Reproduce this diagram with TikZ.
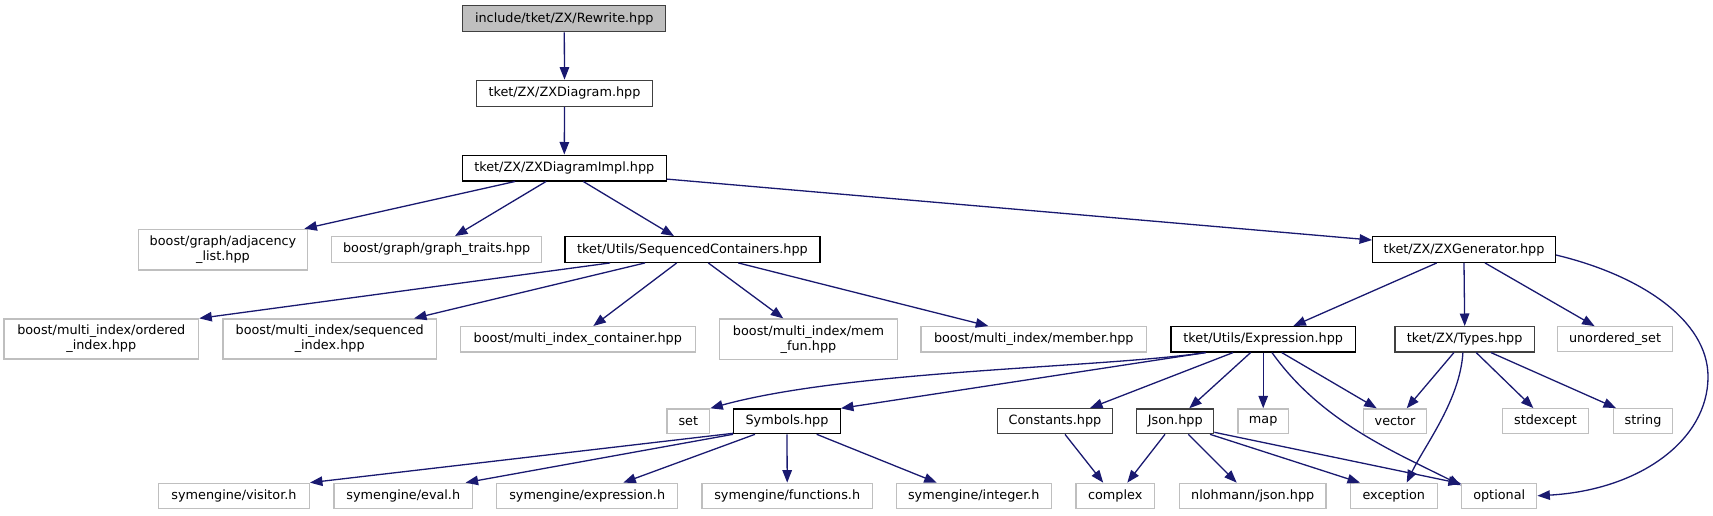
\documentclass[tikz,border=0pt]{standalone}
\usepackage{fontspec}
\setmainfont{DejaVu Sans}
\usetikzlibrary{arrows.meta,calc}
\definecolor{edgec}{HTML}{191970}
\definecolor{extc}{HTML}{BFBFBF}
\definecolor{dk}{HTML}{404040}
\begin{document}
\begin{tikzpicture}[x=1pt,y=-1pt,
 base/.style={draw, line width=1.3pt, inner sep=0pt, font=\fontsize{12.8}{15}\selectfont, align=center, fill=white},
 ext/.style={base, draw=extc},
 int/.style={base, draw=black},
 intd/.style={base, draw=dk},
 sz/.style 2 args={minimum width=#1, minimum height=#2},
 dep/.style={draw=edgec, line width=1.3pt, -{Triangle[length=12.5pt,width=9.5pt]}},
]
\useasboundingbox (0,0) rectangle (1713,515);
% row 0-2
\node[intd, fill=extc, sz={203}{26}] (rw) at (564.3,18.7) {include/tket/ZX/Rewrite.hpp};
\node[intd, sz={175.6}{26}] (zxd) at (564.5,93.3) {tket/ZX/ZXDiagram.hpp};
\node[int, sz={204}{25.7}] (impl) at (564.3,168) {tket/ZX/ZXDiagramImpl.hpp};
% row 3
\node[ext, sz={169.4}{40.7}] (adj) at (223,249.7) {boost/graph/adjacency\\\_list.hpp};
\node[ext, sz={210}{25.6}] (gt) at (436.7,249.5) {boost/graph/graph\_traits.hpp};
\node[int, sz={255}{25.6}] (seqc) at (692.5,249.5) {tket/Utils/SequencedContainers.hpp};
\node[int, sz={182.6}{25.6}] (zxg) at (1464,249.5) {tket/ZX/ZXGenerator.hpp};
% row 4
\node[ext, sz={194.7}{40}] (ord) at (101.3,339) {boost/multi\_index/ordered\\\_index.hpp};
\node[ext, sz={213.3}{40}] (seq) at (329.7,339) {boost/multi\_index/sequenced\\\_index.hpp};
\node[ext, sz={235}{25.3}] (cont) at (577.8,339.3) {boost/multi\_index\_container.hpp};
\node[ext, sz={178.4}{40.3}] (memf) at (808.5,339.2) {boost/multi\_index/mem\\\_fun.hpp};
\node[ext, sz={225.7}{25.3}] (memb) at (1033.8,339.3) {boost/multi\_index/member.hpp};
\node[int, sz={184.3}{25.3}] (expr) at (1263.2,339.3) {tket/Utils/Expression.hpp};
\node[intd, sz={139.3}{25.3}] (types) at (1464.7,339.3) {tket/ZX/Types.hpp};
\node[ext, sz={115.3}{25}] (uset) at (1615,339.3) {unordered\_set};
% row 5
\node[ext, sz={42.7}{24.7}] (set) at (688.3,421.3) {set};
\node[int, sz={106.6}{24.7}] (sym) at (787,421.3) {Symbols.hpp};
\node[intd, sz={115}{25}] (const) at (1055,421.2) {Constants.hpp};
\node[intd, sz={77}{24.7}] (json) at (1175.2,421.3) {Json.hpp};
\node[ext, sz={50.3}{24.7}] (map) at (1263.2,421.3) {map};
\node[ext, sz={63.4}{24.7}] (vec) at (1395,421.3) {vector};
\node[ext, sz={86.4}{25}] (stde) at (1545.5,421.2) {stdexcept};
\node[ext, sz={59.4}{25}] (str) at (1643,421.2) {string};
% row 6
\node[ext, sz={150.6}{25}] (vis) at (234,495.8) {symengine/visitor.h};
\node[ext, sz={138.7}{25}] (eval) at (403.3,495.8) {symengine/eval.h};
\node[ext, sz={181}{25}] (exph) at (587.2,495.8) {symengine/expression.h};
\node[ext, sz={170.3}{25}] (func) at (787.2,495.8) {symengine/functions.h};
\node[ext, sz={155}{25}] (inth) at (973.8,495.8) {symengine/integer.h};
\node[ext, sz={78.3}{25}] (cplx) at (1115.2,495.8) {complex};
\node[ext, sz={146.7}{25}] (nloh) at (1252.7,495.8) {nlohmann/json.hpp};
\node[ext, sz={87}{25}] (exc) at (1393.8,495.8) {exception};
\node[ext, sz={75}{25}] (opt) at (1499.2,495.8) {optional};
% edges
\draw[dep] (rw.south) -- (zxd.north);
\draw[dep] (zxd.south) -- (impl.north);
\draw[dep] ([xshift=-49.3]impl.south) -- ([xshift=-4]adj.north east);
\draw[dep] ([xshift=-18.3]impl.south) -- ([xshift=18.3]gt.north);
\draw[dep] ([xshift=19]impl.south) -- ([xshift=-18.5]seqc.north);
\draw[dep] ([yshift=2.4]impl.south east) -- ([yshift=-4]zxg.north west);
\draw[dep] ([xshift=-82.5]seqc.south) -- (ord.north east);
\draw[dep] ([xshift=-47.5]seqc.south) -- ([xshift=-23]seq.north east);
\draw[dep] ([xshift=-15.8]seqc.south) -- ([xshift=15.5]cont.north);
\draw[dep] ([xshift=15.8]seqc.south) -- ([xshift=-25.2]memf.north);
\draw[dep] ([xshift=45.8]seqc.south) -- ([xshift=-45.5]memb.north);
\draw[dep] ([xshift=-27.3]zxg.south) -- ([xshift=30.1]expr.north);
\draw[dep] (zxg.south) -- (types.north);
\draw[dep] ([xshift=21]zxg.south) -- ([xshift=-20.4]uset.north);
\draw[dep] ([yshift=-5.5]zxg.east) .. controls (1640,275) and (1708,320) .. (1708,376.7)
   .. controls (1708,440) and (1640,490) .. (opt.east);
\draw[dep] ([xshift=-57.6]expr.south) .. controls (1100,368) and (850,370) .. (set.north east);
\draw[dep] ([xshift=-57.6]expr.south) -- (sym.north east);
\draw[dep] ([xshift=-30.2]expr.south) -- ([xshift=35]const.north);
\draw[dep] ([xshift=-12.6]expr.south) -- ([xshift=14.1]json.north);
\draw[dep] (expr.south) -- (map.north);
\draw[dep] ([xshift=8.8]expr.south) .. controls (1320,420) and (1390,450) .. ([yshift=-2.7]opt.north west);
\draw[dep] ([xshift=18.6]expr.south) -- ([xshift=-18.3]vec.north);
\draw[dep] ([xshift=-10.8]types.south) -- ([xshift=11.7]vec.north);
\draw[dep] ([xshift=-1.8]types.south) .. controls (1460,400) and (1425,445) .. ([xshift=12.9]exc.north);
\draw[dep] ([xshift=11.5]types.south) -- ([xshift=-12.2]stde.north);
\draw[dep] ([xshift=26.3]types.south) -- ([xshift=-27]str.north);
\draw[dep] ([xshift=-10.2]json.south) -- ([xshift=12.1]cplx.north);
\draw[dep] ([xshift=13.1]json.south) -- ([xshift=-16]nloh.north);
\draw[dep] ([xshift=34.8]json.south) -- ([xshift=-33.8]exc.north);
\draw[dep] ([yshift=2]json.south east) -- ([yshift=-1]opt.north west);
\draw[dep] ([xshift=10]const.south) -- ([xshift=-12]cplx.north);
\draw[dep] ([yshift=1]sym.south west) -- (vis.north east);
\draw[dep] (sym.south west) -- ([xshift=-7.7]eval.north east);
\draw[dep] ([xshift=-32]sym.south) -- ([xshift=36.1]exph.north);
\draw[dep] (sym.south) -- (func.north);
\draw[dep] ([xshift=29.7]sym.south) -- ([xshift=-37.1]inth.north);
\end{tikzpicture}
\end{document}
